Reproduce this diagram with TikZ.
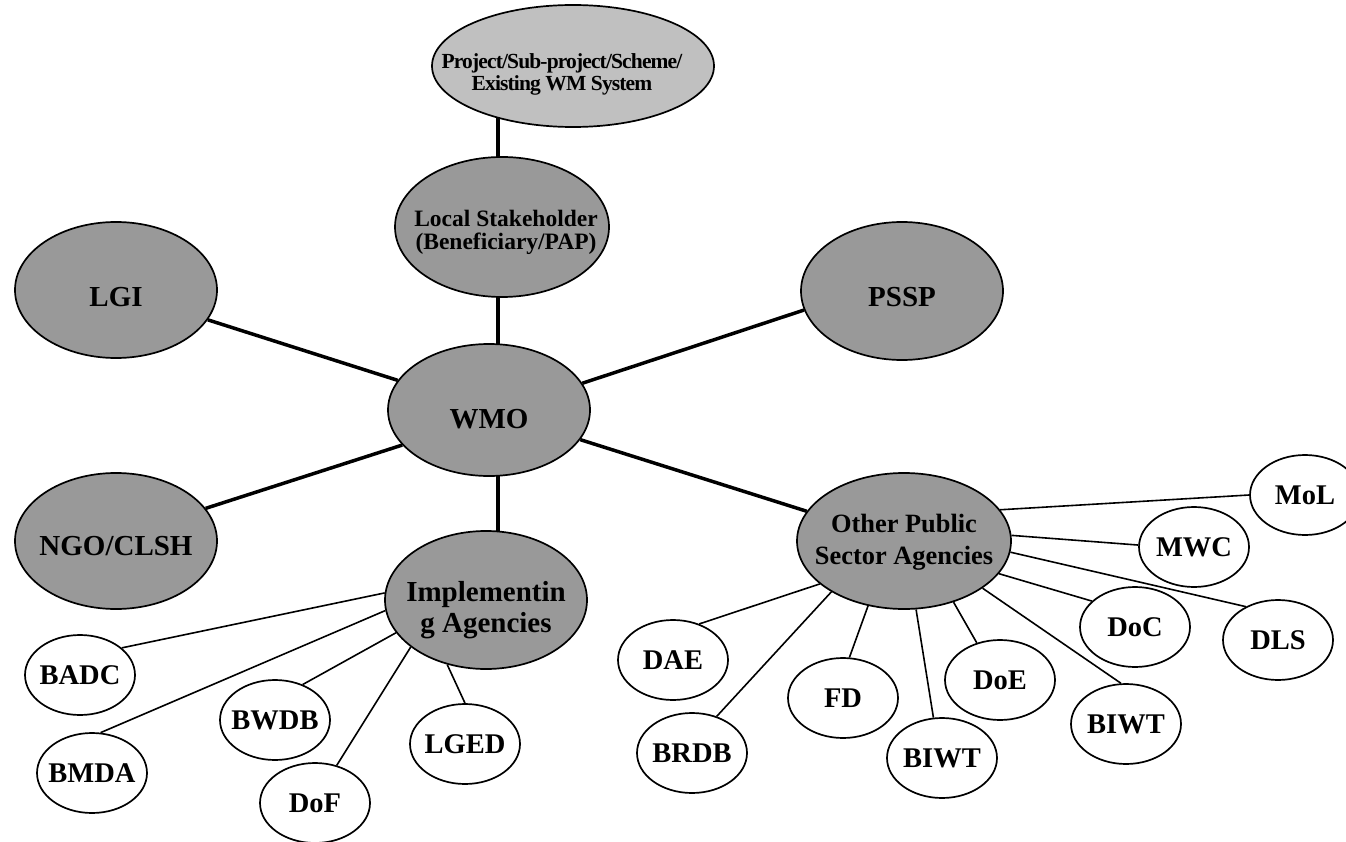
\documentclass[tikz,border=0pt]{standalone}
\usepackage{fontspec}
\setmainfont{Liberation Serif}
\newfontfamily\condfont[LetterSpace=-4]{Liberation Serif}
\usetikzlibrary{shapes.geometric}
\definecolor{bigfill}{RGB}{153,153,153}
\definecolor{topfill}{RGB}{192,192,192}
\pgfdeclarelayer{background}
\pgfsetlayers{background,main}
\begin{document}
\begin{tikzpicture}[x=1pt,y=-1pt,
  bigell/.style={ellipse, draw, line width=1.7, fill=bigfill, inner sep=0, minimum width=202, minimum height=136},
  smallell/.style={ellipse, draw, line width=1.7, fill=white, inner sep=0, minimum width=110, minimum height=80},
  lbl/.style={font=\bfseries\fontsize{29}{31}\selectfont, align=center, inner sep=0},
  slbl/.style={font=\bfseries\fontsize{28.5}{30}\selectfont, inner sep=0},
  thickline/.style={line width=3.5},
  thinline/.style={line width=1.6}]
\useasboundingbox (0,0) rectangle (1346,842);
\clip (0,0) rectangle (1346,842);

% main ellipses
\node[bigell, fill=topfill, minimum width=282, minimum height=122,
  label={[lbl, font=\condfont\bfseries\fontsize{21.5}{22}\selectfont, xshift=-11, yshift=-8]center:{Project/Sub-project/Scheme/\\Existing WM System}}] (proj) at (573,66) {};
\node[bigell, minimum width=214, minimum height=140,
  label={[lbl, font=\bfseries\fontsize{23.5}{23}\selectfont, xshift=4, yshift=-5]center:{Local Stakeholder\\(Beneficiary/PAP)}}] (ls) at (502,227) {};
\node[bigell, label={[lbl, yshift=-7]center:LGI}] (lgi) at (116,290) {};
\node[bigell, minimum height=138, label={[lbl, yshift=-6]center:PSSP}] (pssp) at (902,291) {};
\node[bigell, minimum height=132, label={[lbl, yshift=-9]center:WMO}] (wmo) at (489,410) {};
\node[bigell, label={[lbl, yshift=-5]center:NGO/CLSH}] (ngo) at (116,541) {};
\node[bigell, minimum height=138, label={[lbl, yshift=-10]center:{Implementin\\g Agencies}}] (impl) at (486,600) {};
\node[bigell, minimum width=214, label={[lbl, font=\bfseries\fontsize{26.4}{32}\selectfont, yshift=-1]center:{Other Public\\Sector Agencies}}] (other) at (904,541) {};

% small ellipses
\node[smallell, label={[slbl]center:BADC}] (badc) at (80,675) {};
\node[smallell, label={[slbl]center:BMDA}] (bmda) at (92,773) {};
\node[smallell, label={[slbl]center:BWDB}] (bwdb) at (275,720) {};
\node[smallell, label={[slbl]center:DoF}] (dof) at (315,803) {};
\node[smallell, label={[slbl]center:LGED}] (lged) at (465,744) {};
\node[smallell, label={[slbl]center:DAE}] (dae) at (673,660) {};
\node[smallell, label={[slbl]center:BRDB}] (brdb) at (692,753) {};
\node[smallell, label={[slbl]center:FD}] (fd) at (843,698) {};
\node[smallell, label={[slbl]center:BIWT}] (biwta) at (942,758) {};
\node[smallell, label={[slbl]center:DoE}] (doe) at (1000,680) {};
\node[smallell, label={[slbl]center:BIWT}] (biwtb) at (1126,724) {};
\node[smallell, label={[slbl]center:DoC}] (doc) at (1135,627) {};
\node[smallell, label={[slbl]center:DLS}] (dls) at (1278,640) {};
\node[smallell, label={[slbl]center:MWC}] (mwc) at (1194,547) {};
\node[smallell, label={[slbl]center:MoL}] (mol) at (1305,495) {};

\coordinate (vx) at (498,0);

\begin{pgfonlayer}{background}
  \draw[thickline] (proj.center -| vx) -- (ls.center -| vx);
  \draw[thickline] (ls.center -| vx) -- (wmo.center -| vx);
  \draw[thickline] (wmo.center -| vx) -- (impl.center -| vx);
  \draw[thickline] (wmo.162) -- (lgi.342);
  \draw[thickline] (wmo.202) -- (ngo.20);
  \draw[thickline] (wmo.16) -- (pssp.191);
  \draw[thickline] (wmo.342) -- (other.163);

  \draw[thinline] (impl.176) -- (badc.33);
  \draw[thinline] (impl.186) -- (bmda.78);
  \draw[thinline] (impl.200) -- (bwdb.52);
  \draw[thinline] (impl.212) -- (dof.60);
  \draw[thinline] (impl.239) -- (lged.90);

  \draw[thinline] (other.18) -- (mol.180);
  \draw[thinline] (other.3) -- (mwc.178);
  \draw[thinline] (other.354) -- (dls.134);
  \draw[thinline] (other.341) -- (doc.149);
  \draw[thinline] (other.329) -- (biwtb.97);
  \draw[thinline] (other.309) -- (doe.122);
  \draw[thinline] (other.280) -- (biwta.102);
  \draw[thinline] (other.241) -- (fd.81);
  \draw[thinline] (other.215) -- (brdb.56);
  \draw[thinline] (other.207) -- (dae.54);
\end{pgfonlayer}
\end{tikzpicture}
\end{document}
